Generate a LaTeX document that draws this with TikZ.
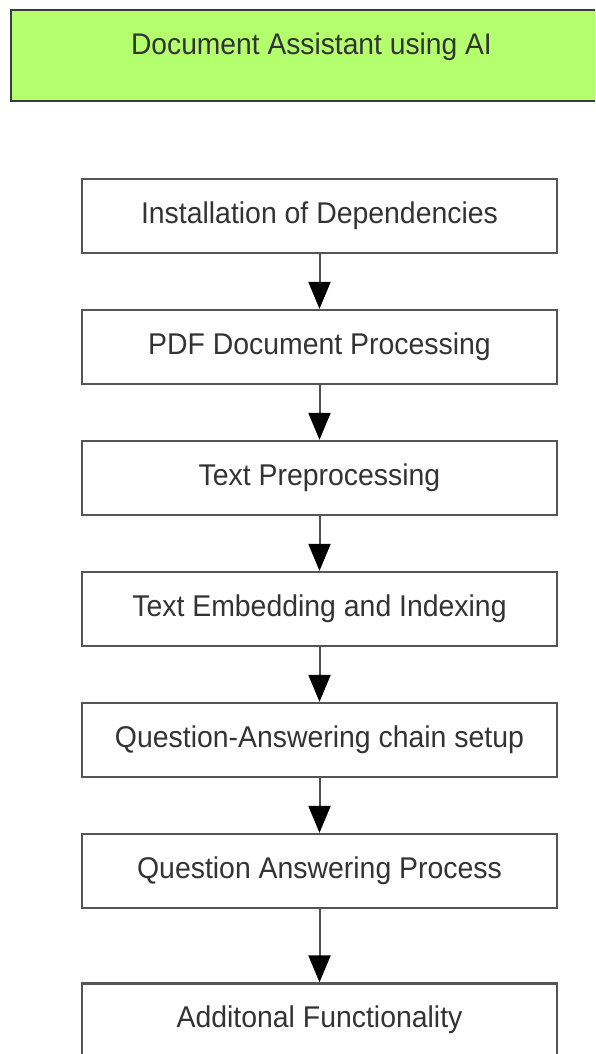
\documentclass[tikz,border=0pt]{standalone}
\usepackage{fontspec}
\setmainfont[FakeStretch=0.947]{Liberation Sans}
\usetikzlibrary{arrows.meta}
\definecolor{titlegreen}{HTML}{B4FF6E}
\definecolor{boxline}{HTML}{555555}
\definecolor{titleline}{HTML}{3C3C3C}
\definecolor{labeltext}{HTML}{333333}
\definecolor{flowline}{HTML}{505050}
\tikzset{
  stepbox/.style={draw=boxline, line width=2.3pt, fill=white, rectangle,
    minimum width=475pt, minimum height=74pt, inner sep=0pt,
    text=labeltext, font=\fontsize{30}{34}\selectfont,
    text height=22pt, text depth=7.5pt},
  titlebox/.style={draw=titleline, line width=2.3pt, fill=titlegreen, rectangle,
    minimum width=601pt, minimum height=91pt, inner sep=0pt,
    text=labeltext, font=\fontsize{29.8}{34}\selectfont,
    text height=22pt, text depth=23.6pt},
  flow/.style={draw=flowline, line width=2pt,
    -{Triangle[length=27pt,width=22pt,color=black,fill=black]}}
}
\begin{document}
\begin{tikzpicture}[x=1pt,y=-1pt]
  \useasboundingbox (0,0) rectangle (595,1054);
  \clip (0,0) rectangle (595,1054);
  \fill[white] (0,0) rectangle (595,1054);

  % heading bar
  \node[titlebox] (title) at (311.5,55.5) {Document Assistant using AI};

  % processing steps
  \node[stepbox] (s1) at (319.5,216)    {Installation of Dependencies};
  \node[stepbox] (s2) at (319.5,347)    {PDF Document Processing};
  \node[stepbox] (s3) at (319.5,478)    {Text Preprocessing};
  \node[stepbox] (s4) at (319.5,609)    {Text Embedding and Indexing};
  \node[stepbox] (s5) at (319.5,740)    {Question-Answering chain setup};
  \node[stepbox] (s6) at (319.5,871)    {Question Answering Process};
  \node[stepbox] (s7) at (319.5,1020.5) {Additonal Functionality};

  % connectors
  \foreach \a/\b in {s1/s2, s2/s3, s3/s4, s4/s5, s5/s6, s6/s7}
    \draw[flow] (\a.south) -- (\b.north);
\end{tikzpicture}
\end{document}
